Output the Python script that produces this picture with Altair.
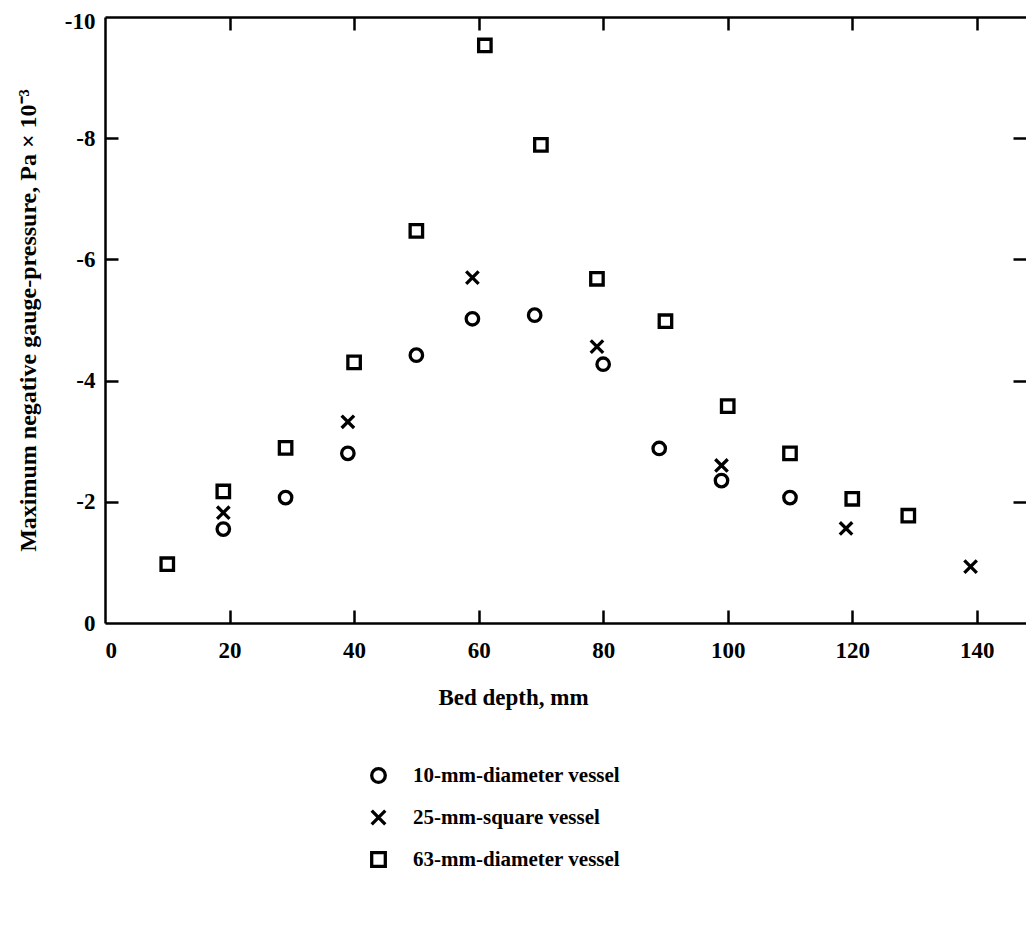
import altair as alt
import pandas as pd

series_names = ["10-mm-diameter vessel", "25-mm-square vessel", "63-mm-diameter vessel"]

circle_x = [19, 29, 39, 50, 59, 69, 80, 89, 99, 110]
circle_y = [-1.55, -2.07, -2.80, -4.42, -5.02, -5.08, -4.27, -2.88, -2.35, -2.07]

cross_x = [19, 39, 59, 79, 99, 119, 139]
cross_y = [-1.82, -3.32, -5.70, -4.56, -2.60, -1.56, -0.93]

square_x = [10, 19, 29, 40, 50, 61, 70, 79, 90, 100, 110, 120, 129]
square_y = [-0.97, -2.17, -2.89, -4.30, -6.47, -9.53, -7.89, -5.68, -4.98, -3.58, -2.80, -2.05, -1.77]

x_labels = [0, 20, 40, 60, 80, 100, 120, 140]
x_inner_ticks = [20, 40, 60, 80, 100, 120, 140]
y_labels = [0, -2, -4, -6, -8, -10]
y_inner_ticks = [-2, -4, -6, -8]

rows = []
for xs, ys, name in [(circle_x, circle_y, series_names[0]),
                     (cross_x, cross_y, series_names[1]),
                     (square_x, square_y, series_names[2])]:
    for a, b in zip(xs, ys):
        rows.append({"depth": a, "pressure": b, "vessel": name})
df = pd.DataFrame(rows)

FONT = "Liberation Serif"
XMARK = "M-1,-1L1,1M-1,1L1,-1"

xscale = alt.Scale(domain=[0, 147.9], nice=False, zero=False)
yscale = alt.Scale(domain=[-10, 0], nice=False, reverse=True)

base = alt.Chart(df)

points = base.mark_point(filled=False, color="black", strokeWidth=3.3, size=155, opacity=1).encode(
    x=alt.X("depth:Q", scale=xscale,
            axis=alt.Axis(orient="bottom", values=x_labels, ticks=False, domain=True,
                          domainColor="black", domainWidth=2.5,
                          labelPadding=16, labelFontSize=23, labelFont=FONT, labelFontWeight="bold",
                          labelColor="black", grid=False,
                          title="Bed depth, mm", titleFont=FONT, titleFontSize=23,
                          titleFontWeight="bold", titleColor="black",
                          titleX=408, titleY=74, titleAlign="center", titleBaseline="middle")),
    y=alt.Y("pressure:Q", scale=yscale,
            axis=alt.Axis(orient="left", values=y_labels, ticks=False, domain=True,
                          domainColor="black", domainWidth=2.5,
                          labelPadding=10, labelFontSize=23, labelFont=FONT, labelFontWeight="bold",
                          labelColor="black", grid=False,
                          labelOffset={"condition": {"test": "datum.value == -10", "value": 4}, "value": 0},
                          labelExpr="datum.value == 0 ? '0' : '-' + abs(datum.value)",
                          title="Maximum negative gauge-pressure, Pa × 10⁻³",
                          titleFont=FONT, titleFontSize=24, titleFontWeight="bold",
                          titleColor="black", titleAngle=270, titleX=-77, titleY=303,
                          titleAlign="center", titleBaseline="middle")),
    shape=alt.Shape("vessel:N",
                    scale=alt.Scale(domain=series_names, range=["circle", XMARK, "square"]),
                    legend=alt.Legend(title=None, orient="none", legendX=263, legendY=748,
                                      labelFont=FONT, labelFontSize=21, labelFontWeight="bold",
                                      labelColor="black", rowPadding=15, labelOffset=24,
                                      labelLimit=0,
                                      symbolStrokeColor="black", symbolStrokeWidth=3.3,
                                      symbolSize=185, symbolFillColor="transparent")),
)

tick_style = dict(labels=False, domain=False, ticks=True, tickSize=13, tickWidth=2.5,
                  tickColor="black", grid=False, title=None, offset=-13)

frame_top = base.mark_point(opacity=0).encode(
    x=alt.X("depth:Q", scale=xscale,
            axis=alt.Axis(orient="top", labels=False, ticks=False, domain=True,
                          domainColor="black", domainWidth=2.5, grid=False, title=None)),
    y=alt.Y("pressure:Q", scale=yscale,
            axis=alt.Axis(orient="right", values=y_inner_ticks, **tick_style)),
)

ticks_tl = base.mark_point(opacity=0).encode(
    x=alt.X("depth:Q", scale=xscale, axis=alt.Axis(orient="top", values=x_inner_ticks, **tick_style)),
    y=alt.Y("pressure:Q", scale=yscale, axis=alt.Axis(orient="left", values=y_inner_ticks, **tick_style)),
)

ticks_b = base.mark_point(opacity=0).encode(
    x=alt.X("depth:Q", scale=xscale, axis=alt.Axis(orient="bottom", values=x_inner_ticks, **tick_style)),
    y=alt.Y("pressure:Q", scale=yscale, axis=None),
)

chart = alt.layer(points, frame_top, ticks_tl, ticks_b).resolve_axis(
    x="independent", y="independent"
).properties(
    width=921, height=606, autosize="none",
    padding={"left": 97, "top": 9, "right": 0, "bottom": 280},
).configure_view(
    stroke=None
).configure(background="white")

chart.save("out.html", embed_options={"renderer": "svg", "actions": False})
